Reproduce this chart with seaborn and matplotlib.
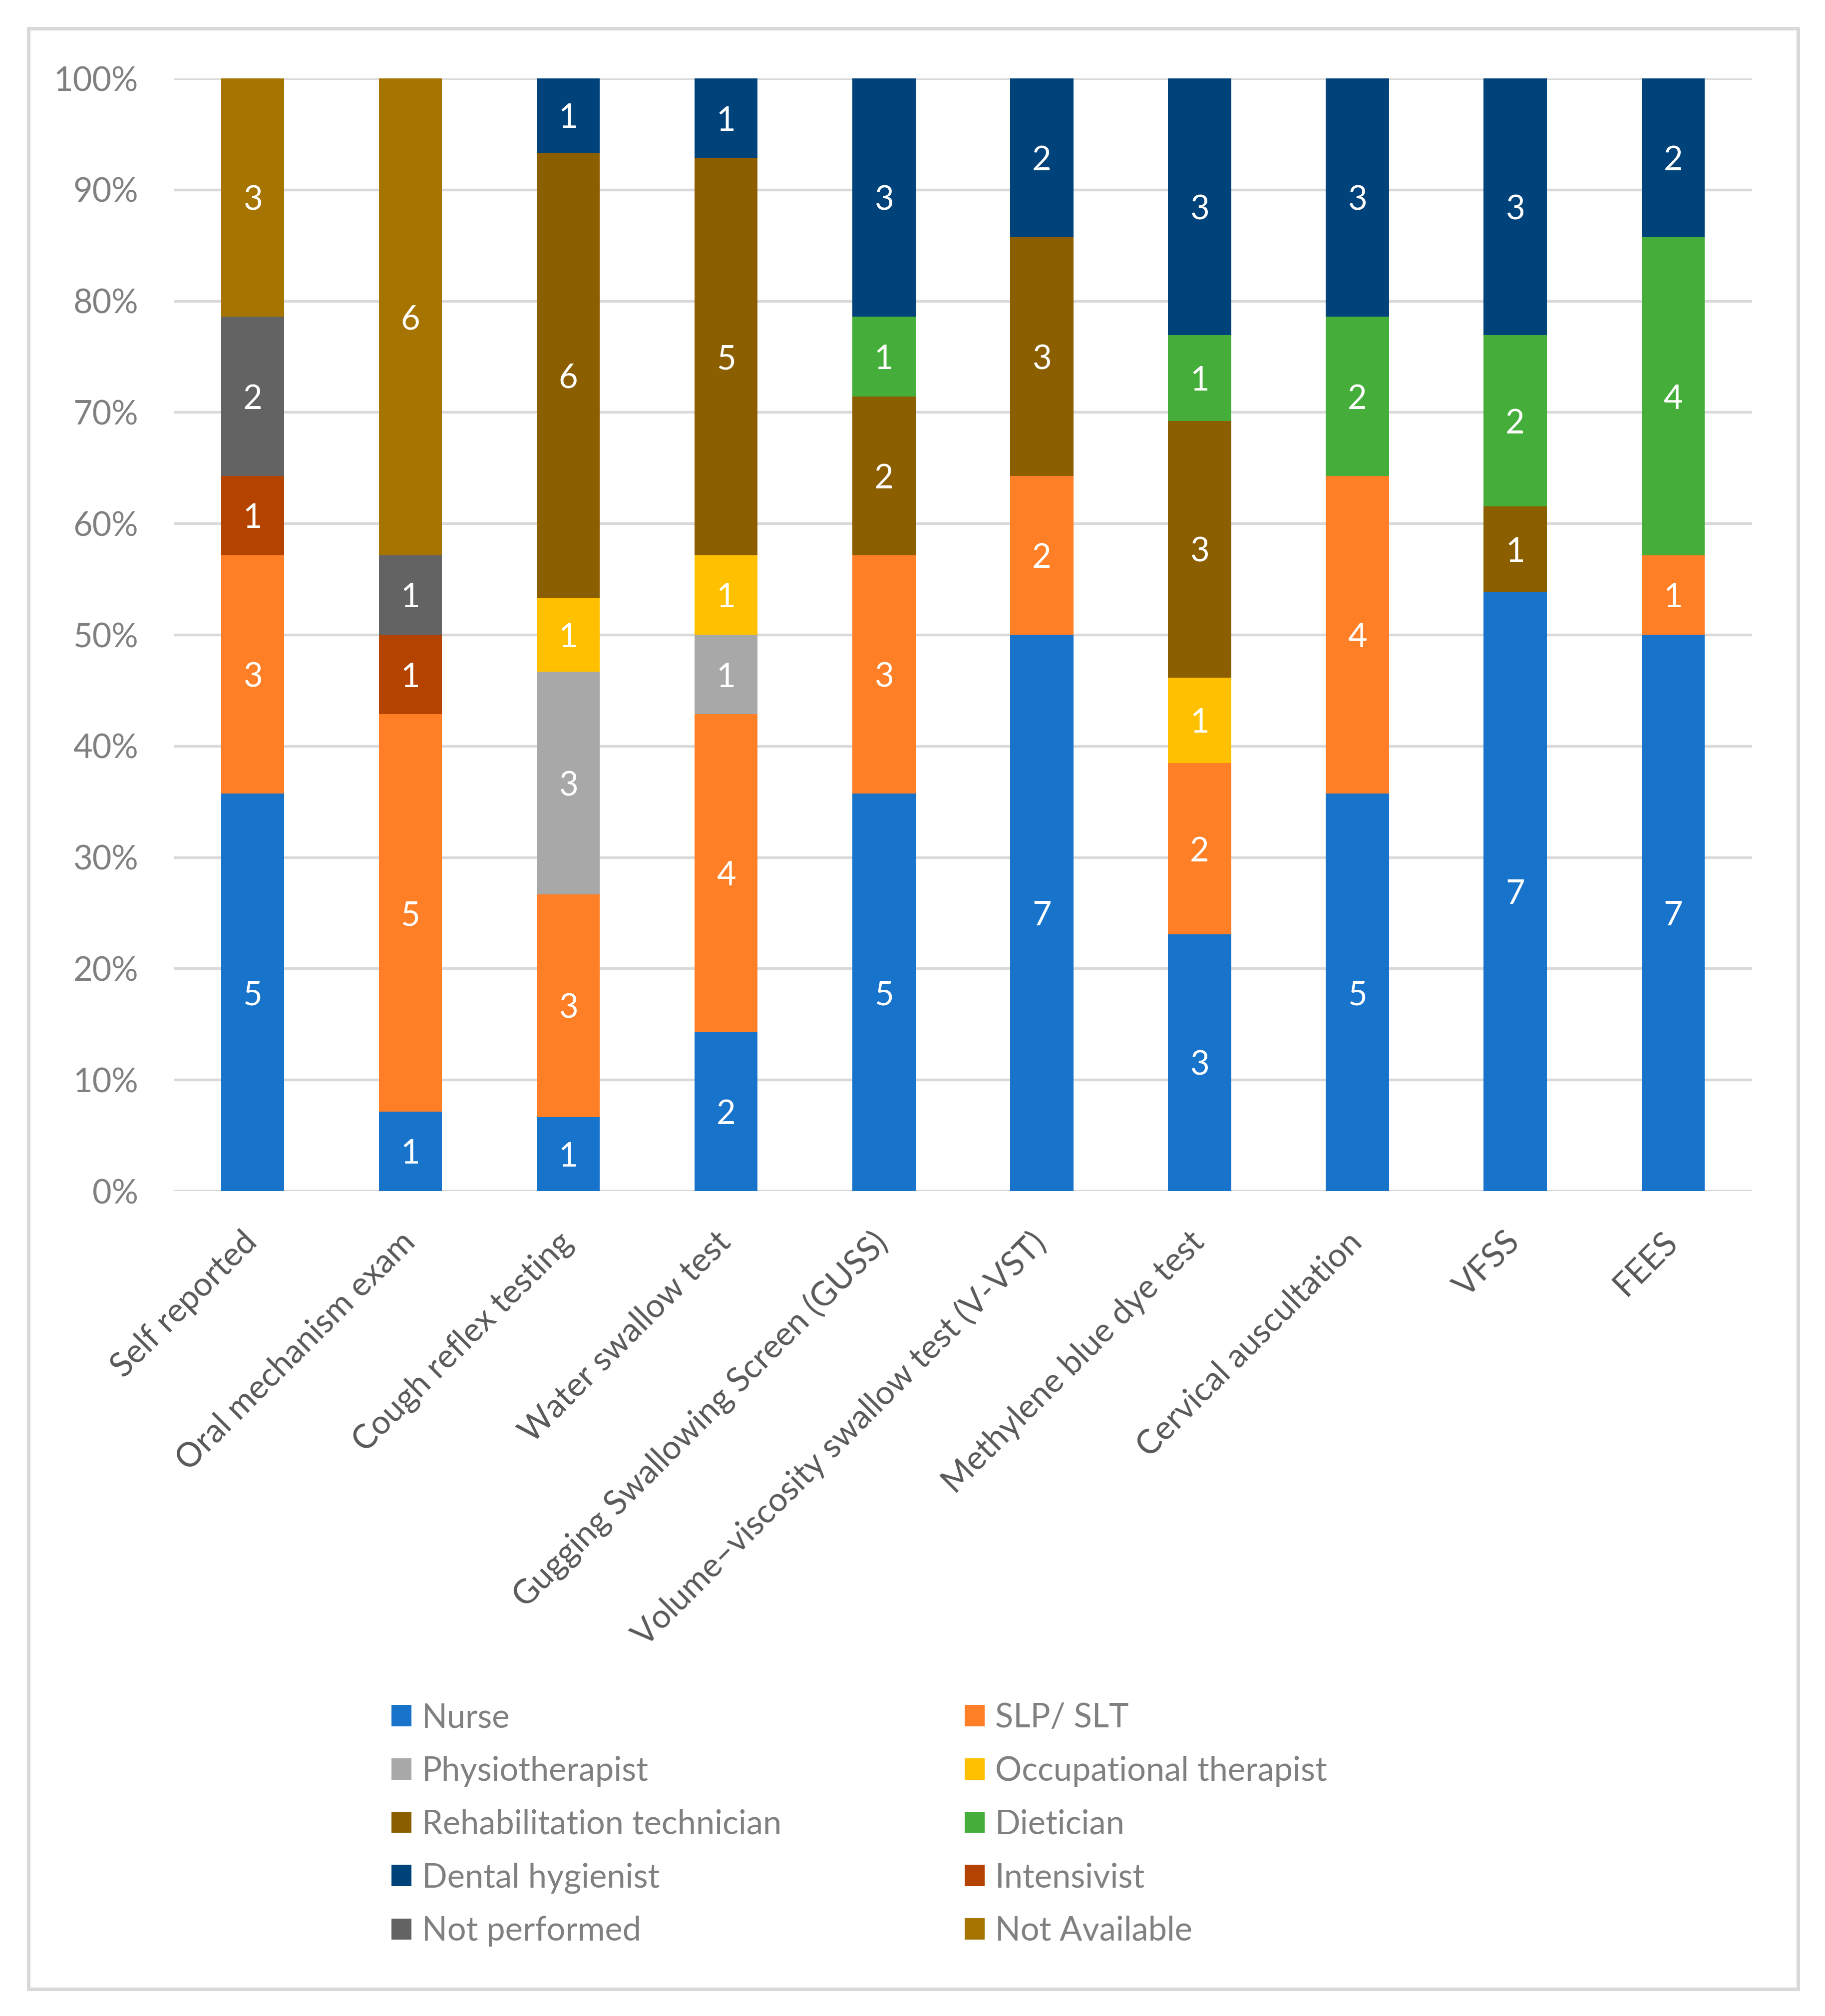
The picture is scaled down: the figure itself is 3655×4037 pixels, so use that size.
import numpy as np
import pandas as pd
import matplotlib
matplotlib.use("Agg")
import matplotlib.pyplot as plt
import matplotlib.transforms as mtransforms
from matplotlib.patches import Patch, Rectangle
import seaborn as sns

# Assessment methods (x axis)
categories = [
    "Self reported",
    "Oral mechanism exam",
    "Cough reflex testing",
    "Water swallow test",
    "Gugging Swallowing Screen (GUSS)",
    "Volume\u2013viscosity swallow test (V-VST)",
    "Methylene blue dye test",
    "Cervical auscultation",
    "VFSS",
    "FEES",
]

roles = [
    "Nurse", "SLP/ SLT", "Physiotherapist", "Occupational therapist",
    "Rehabilitation technician", "Dietician", "Dental hygienist",
    "Intensivist", "Not performed", "Not Available",
]

# counts per role, in category order
nurse = [5, 1, 1, 2, 5, 7, 3, 5, 7, 7]
slp = [3, 5, 3, 4, 3, 2, 2, 4, 0, 1]
physio = [0, 0, 3, 1, 0, 0, 0, 0, 0, 0]
occupational = [0, 0, 1, 1, 0, 0, 1, 0, 0, 0]
rehab = [0, 0, 6, 5, 2, 3, 3, 0, 1, 0]
dietician = [0, 0, 0, 0, 1, 0, 1, 2, 2, 4]
dental = [0, 0, 1, 1, 3, 2, 3, 3, 3, 2]
intensivist = [1, 1, 0, 0, 0, 0, 0, 0, 0, 0]
not_performed = [2, 1, 0, 0, 0, 0, 0, 0, 0, 0]
not_available = [3, 6, 0, 0, 0, 0, 0, 0, 0, 0]

colors = [
    "#1874CB", "#FF7F27", "#A8A8A8", "#FFC000", "#8B5F00",
    "#45AE3A", "#00437B", "#B54300", "#636363", "#A67400",
]

counts = pd.DataFrame(
    dict(zip(roles, [nurse, slp, physio, occupational, rehab, dietician,
                     dental, intensivist, not_performed, not_available])),
    index=categories,
)
pct = counts.div(counts.sum(axis=1), axis=0) * 100
cum = pct.cumsum(axis=1)

sns.set_style("white")
plt.rcParams["font.family"] = ["Lato", "DejaVu Sans"]

fs = 16
fig = plt.figure(figsize=(3655 / 300, 4037 / 300))
ax = fig.add_axes([0.0952, 0.4092, 0.8648, 0.5519])

# stacked bars: draw cumulative totals from the top down
for role, col in reversed(list(zip(roles, colors))):
    sns.barplot(x=categories, y=cum[role].values, order=categories, color=col,
                saturation=1, width=0.4, linewidth=0, ax=ax)

# segment value labels
for i, cat in enumerate(categories):
    for role in roles:
        n = counts.loc[cat, role]
        if n > 0:
            ax.text(i, cum.loc[cat, role] - pct.loc[cat, role] / 2, str(n),
                    ha="center", va="center_baseline", color="white", fontsize=fs)

ax.set_ylim(0, 100)
ax.set_xlim(-0.5, len(categories) - 0.5)
ax.set_yticks(range(0, 101, 10))
ax.set_yticklabels([f"{v}%" for v in range(0, 101, 10)])
ax.set_axisbelow(True)
ax.yaxis.grid(True, color="#D9D9D9", linewidth=1.3)
ax.xaxis.grid(False)
sns.despine(ax=ax, left=True, bottom=True)
ax.set_xlabel("")
ax.set_ylabel("")
ax.tick_params(axis="y", length=0, pad=17, labelsize=fs, labelcolor="#808080")
ax.tick_params(axis="x", length=0, pad=17, labelsize=fs, labelcolor="#595959")
shift = mtransforms.ScaledTranslation(5 / 72, 0, fig.dpi_scale_trans)
for lab in ax.get_xticklabels():
    lab.set_rotation(45)
    lab.set_ha("right")
    lab.set_transform(lab.get_transform() + shift)

# legend in two columns, read row-wise
handles = [Patch(facecolor=c, edgecolor="none") for c in colors]
leg_kw = dict(frameon=False, fontsize=fs, labelcolor="#808080", handlelength=0.6,
              handleheight=0.61, handletextpad=0.32, labelspacing=0.67,
              borderpad=0, borderaxespad=0, loc="upper left")
fig.legend(handles[0::2], roles[0::2], bbox_to_anchor=(0.2145, 0.1555), **leg_kw)
fig.legend(handles[1::2], roles[1::2], bbox_to_anchor=(0.5286, 0.1555), **leg_kw)

# outer chart border
fig.patches.append(Rectangle((0.0156, 0.0134), 0.9696, 0.9725, transform=fig.transFigure,
                             fill=False, edgecolor="#D9D9D9", linewidth=1.7))

fig.savefig("out.png", dpi=300)
